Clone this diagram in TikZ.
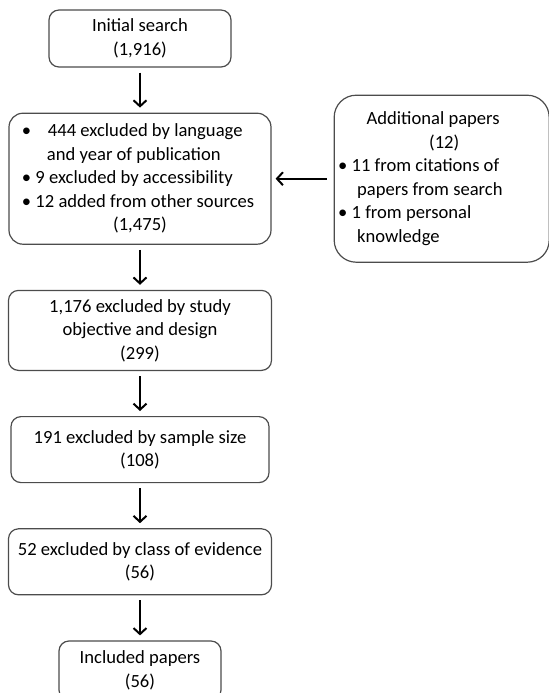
\documentclass[tikz,border=0pt]{standalone}
\usepackage{fontspec}
\setmainfont{Carlito}
\usepackage{tikz}
\usetikzlibrary{arrows.meta,positioning}
\tikzset{
  stage/.style={rectangle, rounded corners=#1, draw=black!70, line width=0.6pt,
                align=center, font=\fontsize{9.3pt}{11.75pt}\selectfont, inner sep=2pt},
  stage/.default=5pt,
  arr/.style={-{Straight Barb[length=3pt,width=6.5pt]}, line width=1pt, draw=black,
              shorten >=2.5pt, shorten <=2.5pt},
}

\begin{document}
\begin{tikzpicture}[node distance=22.5pt]
    \useasboundingbox (-70pt,19.25pt) rectangle (204.5pt,-327.25pt);
    \node[stage, minimum width=91pt, minimum height=28.5pt] (init) {Initial search\\(1,916)};
    \node[stage=7pt, text width=118pt, align=flush left, inner xsep=6.5pt, minimum height=65.5pt, below=of init] (lang)
      {\makebox[13pt][l]{•}444 excluded by language\\
       \hspace*{12.5pt}and year of publication\\
       • 9 excluded by accessibility\\
       • 12 added from other sources\\
       \makebox[118pt]{(1,475)}};
    \node[stage=11pt, text width=103.5pt, align=flush left, inner xsep=2pt, minimum height=83.5pt, right=31pt of lang] (extra)
      {\makebox[95pt]{Additional papers}\\
       \makebox[106pt]{(12)}\\
       • 11 from citations of\\
       \hspace*{9.5pt}papers from search\\
       • 1 from personal\\
       \hspace*{9.5pt}knowledge};
    \node[stage, minimum width=131.5pt, minimum height=40pt, below=of lang] (design)
      {1,176 excluded by study\\objective and design\\(299)};
    \node[stage, minimum width=129pt, minimum height=33pt, below=of design] (size)
      {191 excluded by sample size\\(108)};
    \node[stage, minimum width=131.5pt, minimum height=33pt, below=of size] (evid)
      {52 excluded by class of evidence\\(56)};
    \node[stage, minimum width=81pt, minimum height=29.5pt, below=of evid] (incl)
      {Included papers\\(56)};
    \draw[arr] (init) -- (lang); \draw[arr] (lang) -- (design);
    \draw[arr] (design) -- (size); \draw[arr] (size) -- (evid);
    \draw[arr] (evid) -- (incl);
    \draw[arr, shorten <=3.5pt, shorten >=2pt] (extra) -- (lang);
  \end{tikzpicture}
\end{document}
